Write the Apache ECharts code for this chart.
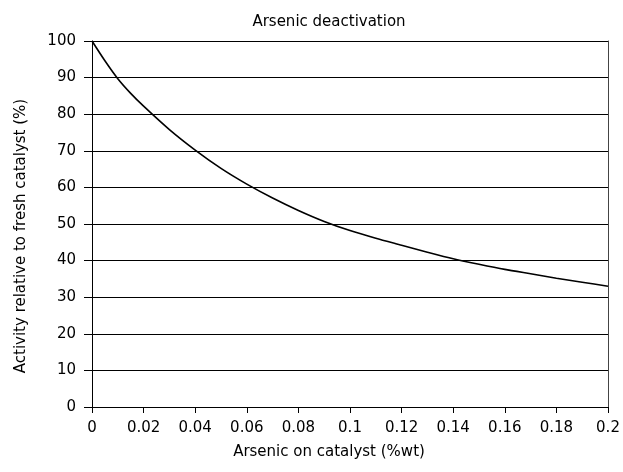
<!DOCTYPE html>
<html>
<head>
<meta charset="utf-8">
<script src="https://cdn.jsdelivr.net/npm/echarts@6/dist/echarts.min.js"></script>
<style>
html,body{margin:0;padding:0;background:#fff;}
#chart{width:623px;height:472px;}
</style>
</head>
<body>
<div id="chart"></div>
<script>
var titleText = 'Arsenic deactivation';
var xName = 'Arsenic on catalyst (%wt)';
var yName = 'Activity relative to fresh catalyst (%)';
var arsenic = [0, 0.005, 0.01, 0.015, 0.02, 0.03, 0.04, 0.05, 0.06, 0.07, 0.08, 0.09, 0.1, 0.11, 0.12, 0.13, 0.14, 0.15, 0.16, 0.17, 0.18, 0.19, 0.2];
var activity = [100, 94.6, 89.7, 85.7, 82.2, 75.8, 70.2, 65.2, 60.9, 57.1, 53.7, 50.7, 48.2, 46.1, 44.2, 42.3, 40.5, 39, 37.6, 36.4, 35.2, 34.1, 33];

var data = arsenic.map(function (x, i) { return [x, activity[i]]; });
var font = 'DejaVu Sans, Liberation Sans, sans-serif';

var chart = echarts.init(document.getElementById('chart'), null, {renderer: 'canvas'});
chart.setOption({
  animation: false,
  backgroundColor: '#fff',
  title: {
    text: titleText,
    left: 324, top: 10, textAlign: 'center',
    textStyle: {fontFamily: font, fontSize: 15, fontWeight: 'normal', color: '#000'}
  },
  graphic: [
    {type: 'text', x: 329, y: 452, style: {text: xName, fontFamily: font, fontSize: 15, fill: '#000', textAlign: 'center', textVerticalAlign: 'middle'}},
    {type: 'text', x: 21, y: 236, rotation: Math.PI / 2, style: {text: yName, fontFamily: font, fontSize: 15, fill: '#000', textAlign: 'center', textVerticalAlign: 'middle'}}
  ],
  grid: {left: 92, right: 15, top: 41, bottom: 65},
  xAxis: {
    type: 'value', min: 0, max: 0.2, interval: 0.02,
    axisLine: {show: true, onZero: false, lineStyle: {color: '#000', width: 1}},
    axisTick: {show: true, length: 6, lineStyle: {color: '#000'}},
    axisLabel: {fontFamily: font, fontSize: 15, color: '#000', margin: 14},
    splitLine: {show: false}
  },
  yAxis: [{
    type: 'value', min: 0, max: 100, interval: 10,
    axisLine: {show: true, lineStyle: {color: '#000', width: 1}},
    axisTick: {show: true, length: 8, lineStyle: {color: '#000'}},
    axisLabel: {fontFamily: font, fontSize: 15, color: '#000', margin: 16},
    splitLine: {show: true, lineStyle: {color: '#000', width: 1}}
  }, {
    type: 'value', min: 0, max: 100, position: 'right',
    axisLine: {show: true, lineStyle: {color: '#444', width: 1}},
    axisTick: {show: false}, axisLabel: {show: false}, splitLine: {show: false}
  }],
  series: [{
    type: 'line', data: data, smooth: 0.25, symbol: 'none',
    lineStyle: {color: '#000', width: 1.6}
  }]
});
</script>
</body>
</html>
